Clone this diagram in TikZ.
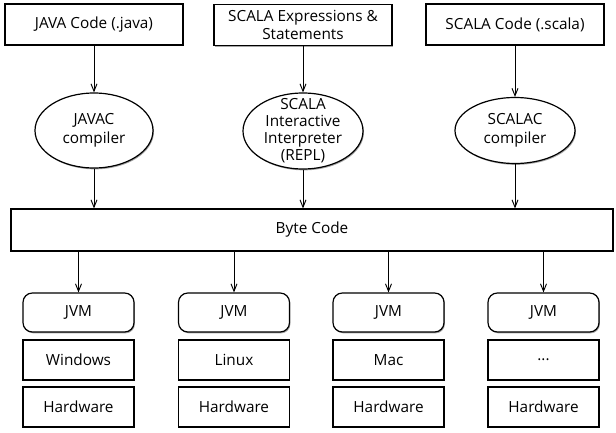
\documentclass[tikz,border=0pt]{standalone}
\usepackage{fontspec}
\setmainfont{Open Sans}
\usetikzlibrary{shapes.geometric,arrows.meta,shadows}

\begin{document}
\begin{tikzpicture}[x=0.75pt,y=-0.75pt,font=\fontsize{11.5}{14}\selectfont,
		boxshadow/.style={drop shadow={shadow xshift=0.7pt,shadow yshift=-1pt,opacity=0.35,fill=black}},
		srcbox/.style={draw,line width=0.9pt,fill=white,align=center,inner sep=1pt,minimum width=133.5pt,minimum height=30.75pt,boxshadow},
		compiler/.style={draw,ellipse,line width=0.9pt,fill=white,inner sep=0pt,boxshadow},
		bytebox/.style={draw,line width=0.9pt,fill=white,minimum width=451.5pt,minimum height=31.5pt,boxshadow},
		jvmbox/.style={draw,line width=0.9pt,fill=white,rounded corners=7pt,minimum width=83.25pt,minimum height=29.25pt,boxshadow},
		osbox/.style={draw,line width=0.9pt,fill=white,minimum width=83.25pt,minimum height=30pt,boxshadow},
		flow/.style={line width=0.7pt,-{Straight Barb[length=5.5pt,width=4.5pt]}}]
			\useasboundingbox (0,0) rectangle (616,432);
			\coordinate (src1) at (94,24.5);
			\coordinate (src2) at (303,25);
			\coordinate (src3) at (515,24.5);
			\coordinate (c1) at (94,130.5);
			\coordinate (c2) at (303,131);
			\coordinate (c3) at (515,130.5);
			\coordinate (bc) at (312,230);

			\node[srcbox] (java) at (src1) {JAVA Code (.java)};
			\node[srcbox] (scalaexpr) at (src2) {SCALA Expressions \&\\Statements};
			\node[srcbox] (scala) at (src3) {SCALA Code (.scala)};

			\node[compiler,minimum width=88.5pt,minimum height=56.25pt,label={[align=center,name=javactext]center:JAVAC\\compiler}] (javac) at (c1) {};
			\node[compiler,minimum width=90pt,minimum height=57pt,label={[align=center,name=repltext,font=\fontsize{11.5}{12.8}\selectfont]center:SCALA\\Interactive\\Interpreter\\(REPL)}] (repl) at (c2) {};
			\node[compiler,minimum width=90pt,minimum height=49.5pt,label={[align=center,name=scalactext]center:SCALAC\\compiler}] (scalac) at (c3) {};

			\node[bytebox] (byte) at (bc) {Byte Code};

			\node[jvmbox] (jvm1) at (78.5,312.5) {JVM};
			\node[jvmbox] (jvm2) at (234,312.5) {JVM};
			\node[jvmbox] (jvm3) at (388.5,312.5) {JVM};
			\node[jvmbox] (jvm4) at (543.5,312.5) {JVM};
			\node[osbox] (os1) at (78.5,360) {Windows};
			\node[osbox] (os2) at (234,360) {Linux};
			\node[osbox] (os3) at (388.5,360) {Mac};
			\node[osbox] (os4) at (543.5,360) {...};
			\node[osbox] (hw1) at (78.5,407) {Hardware};
			\node[osbox] (hw2) at (234,407) {Hardware};
			\node[osbox] (hw3) at (388.5,407) {Hardware};
			\node[osbox] (hw4) at (543.5,407) {Hardware};

			\draw[flow] (java) -- (javac);
			\draw[flow] (scalaexpr) -- (repl);
			\draw[flow] (scala) -- (scalac);
			\draw[flow] (javac) -- (javac |- byte.north);
			\draw[flow] (repl) -- (repl |- byte.north);
			\draw[flow] (scalac) -- (scalac |- byte.north);
			\draw[flow] (byte.south -| jvm1) -- (jvm1);
			\draw[flow] (byte.south -| jvm2) -- (jvm2);
			\draw[flow] (byte.south -| jvm3) -- (jvm3);
			\draw[flow] (byte.south -| jvm4) -- (jvm4);
		\end{tikzpicture}
\end{document}
